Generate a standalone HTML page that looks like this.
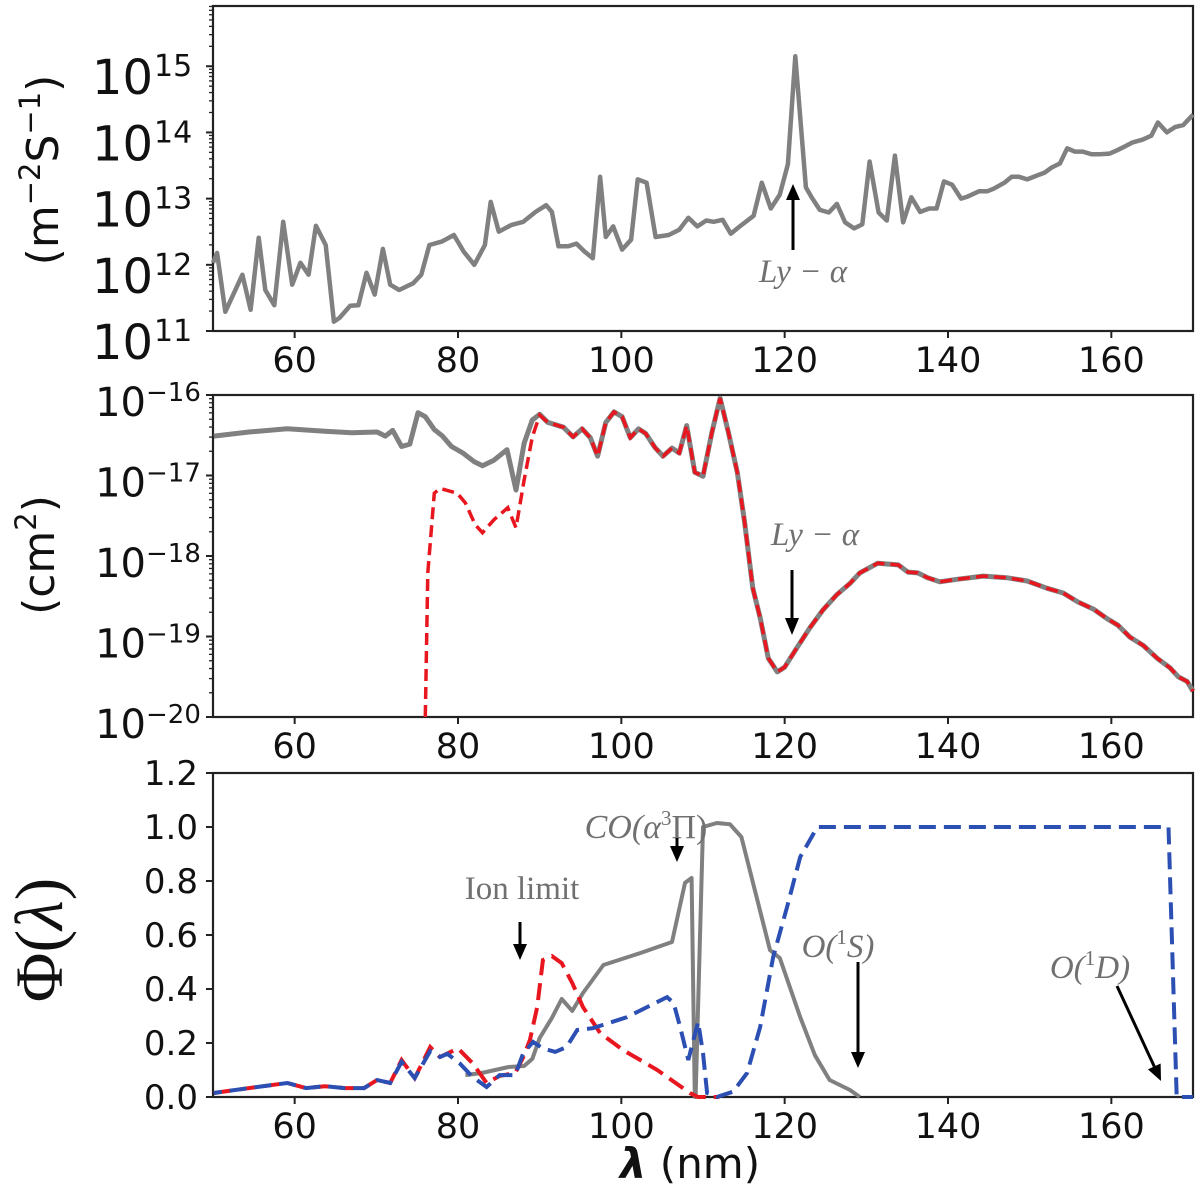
<!DOCTYPE html>
<html><head><meta charset="utf-8"><style>
html,body{margin:0;padding:0;background:#fff;}
svg{display:block;}
text{font-family:"DejaVu Sans","Liberation Sans",sans-serif;fill:#111;}
.serif{font-family:"Liberation Serif","DejaVu Serif",serif;}
</style></head><body>
<svg id="chart" width="1200" height="1188" viewBox="0 0 1200 1188" xmlns="http://www.w3.org/2000/svg"></svg>
<script>
// ---- Panel 1: solar flux (log10 of m^-2 s^-1) ----
const fluxLambda = [50,50.5,51.5,53.6,54.6,55.6,56.4,57.5,58.6,59.7,60.7,61.7,62.6,63.8,64.8,65.5,66.8,67.8,68.8,69.8,70.8,71.7,72.8,73.8,74.5,75.5,76.5,78,79.5,80.7,82,83.3,84,85,86.5,88,89.5,90.8,91.5,92.3,93.5,94.5,95.5,96.5,97.4,98.1,99.0,100.1,101.2,102.0,103.1,104.2,105.8,107.1,108.2,109.3,110.4,111.3,112.4,113.4,114.5,116.2,117.2,118.3,119.4,120.4,121.3,122.6,123.3,124.3,125.4,126.4,127.4,128.5,129.5,130.4,131.5,132.5,133.5,134.5,135.5,136.6,137.7,138.6,139.5,140.5,141.6,142.4,143.8,144.8,145.6,146.9,147.8,148.7,149.7,150.9,151.8,152.7,153.7,154.6,155.5,156.5,157.6,158.6,159.8,160.7,161.7,162.6,163.8,164.9,165.7,166.8,167.8,168.8,170];
const fluxLog = [12.03,12.18,11.29,11.85,11.32,12.41,11.62,11.39,12.65,11.70,12.03,11.85,12.59,12.30,11.14,11.2,11.38,11.39,11.88,11.55,12.24,11.70,11.62,11.68,11.72,11.85,12.3,12.35,12.45,12.2,12.0,12.3,12.95,12.5,12.6,12.65,12.8,12.9,12.8,12.28,12.28,12.32,12.2,12.1,13.33,12.42,12.58,12.23,12.38,13.29,13.24,12.42,12.45,12.53,12.71,12.58,12.67,12.65,12.68,12.47,12.58,12.74,13.24,12.85,13.06,13.52,15.15,13.17,13.02,12.83,12.79,12.92,12.64,12.55,12.61,13.56,12.79,12.67,13.65,12.64,13.02,12.80,12.85,12.85,13.26,13.21,13.0,13.03,13.11,13.11,13.15,13.24,13.33,13.33,13.29,13.35,13.39,13.47,13.53,13.76,13.71,13.71,13.67,13.67,13.68,13.73,13.79,13.85,13.89,13.95,14.15,14.0,14.08,14.11,14.27];
const fluxTicks = [11,12,13,14,15];

// ---- Panel 2: cross sections (log10 cm^2) ----
const xsLambda = [50.1,54.4,59.1,63.7,67.0,70.1,71.1,72.0,73.1,74.1,75.1,76.0,77.1,78.1,79.2,80.6,82.0,83.0,84.4,86.0,87.1,88.1,89.1,90.0,91.0,92.9,94.1,95.2,96.2,97.1,98.1,99.1,100.1,101.1,102.1,103.0,104.1,105.1,106.2,107.1,108.0,109.0,110.0,111.1,112.1,113.1,114.2,115.1,116.1,117.0,118.0,119.1,120.0,121.5,123.1,124.7,126.4,128.0,129.2,131.4,133.9,135.1,136.3,137.5,139.0,141.1,144.3,147.2,149.7,152.1,154.1,155.9,157.8,159.5,160.8,162.3,163.9,165.6,167.2,168.2,169.3,170];
const xsTotal = [-16.51,-16.46,-16.42,-16.45,-16.47,-16.46,-16.51,-16.44,-16.64,-16.61,-16.22,-16.27,-16.43,-16.51,-16.64,-16.72,-16.83,-16.88,-16.81,-16.68,-17.18,-16.6,-16.31,-16.24,-16.34,-16.40,-16.52,-16.42,-16.53,-16.76,-16.34,-16.21,-16.27,-16.53,-16.42,-16.48,-16.65,-16.76,-16.66,-16.72,-16.38,-16.96,-17.01,-16.46,-16.04,-16.46,-16.96,-17.58,-18.40,-18.77,-19.27,-19.44,-19.38,-19.14,-18.89,-18.67,-18.48,-18.34,-18.21,-18.09,-18.11,-18.20,-18.21,-18.27,-18.32,-18.29,-18.25,-18.27,-18.31,-18.40,-18.46,-18.57,-18.66,-18.78,-18.86,-19.01,-19.11,-19.27,-19.39,-19.50,-19.56,-19.68];
const xsDissLambda = [76.0,76.3,77.1,77.8,79.9,80.9,82.1,83.0,84.4,86.1,87.1,88.1,89.1,90.0];
const xsDiss = [-20,-18.21,-17.22,-17.16,-17.22,-17.34,-17.61,-17.71,-17.55,-17.40,-17.65,-17.06,-16.52,-16.25];
const xsTicks = [-20,-19,-18,-17,-16];

// ---- Panel 3: quantum yields ----
const redLambda = [50.1,54.4,59.1,61.4,63.7,66.1,68.5,70.1,71.7,73.1,74.7,76.6,77.8,80.0,81.8,83.5,85.1,87.0,88.0,88.8,89.7,90.4,91.5,92.7,94.0,95.3,97.4,100.2,104.4,108.4,109.4,112];
const redYield = [0.015,0.033,0.052,0.033,0.04,0.033,0.033,0.063,0.052,0.137,0.07,0.185,0.148,0.18,0.125,0.052,0.078,0.089,0.148,0.211,0.333,0.507,0.522,0.496,0.422,0.333,0.237,0.174,0.10,0.015,0,0];
const blueLambda = [50.1,54.4,59.1,61.4,63.7,66.1,68.5,70.1,71.7,73.1,74.7,76.6,77.8,78.7,80.2,81.8,83.5,85.1,87.0,88.0,89.2,90.4,91.9,93.3,94.6,96.5,100.7,105.6,106.4,107.2,108.2,109.4,110.0,110.5,111.7,113.7,115.4,117.0,118.6,120.3,121.9,124,167,168,170];
const blueYield = [0.015,0.033,0.052,0.033,0.04,0.033,0.033,0.063,0.052,0.13,0.07,0.17,0.148,0.16,0.125,0.074,0.037,0.081,0.081,0.163,0.204,0.18,0.167,0.185,0.248,0.255,0.296,0.37,0.348,0.26,0.137,0.278,0.163,0.015,0,0.02,0.089,0.26,0.519,0.704,0.889,1.0,1.0,0,0];
const grayLambda = [80.9,82.9,86.2,88.1,89.1,90.0,91.5,92.7,94.0,95.3,97.8,102.3,106.2,107.8,108.6,109.0,109.1,110.0,111.7,113.3,114.7,118.2,119.4,121.9,123.7,125.5,128,129.2];
const grayYield = [0.081,0.089,0.111,0.115,0.141,0.219,0.293,0.363,0.319,0.385,0.489,0.533,0.574,0.793,0.811,0.0,0.0,1.0,1.015,1.01,0.963,0.544,0.515,0.296,0.155,0.063,0.026,0];
const yieldTicks = [0,0.2,0.4,0.6,0.8,1.0,1.2];
const xTicks = [60,80,100,120,140,160];

const NS = "http://www.w3.org/2000/svg";
const svg = document.getElementById('chart');
function mk(tag, attrs, parent){ const e=document.createElementNS(NS,tag); for(const k in attrs) e.setAttribute(k,attrs[k]); (parent||svg).appendChild(e); return e; }

const XL=213, XR=1193, XMIN=50, XMAX=170;
const X = l => XL + (l-XMIN)*(XR-XL)/(XMAX-XMIN);
const panels = [
  {top:6, bot:331, lo:11, hi:15.91},
  {top:395, bot:717, lo:-20, hi:-16},
  {top:773, bot:1097, lo:0, hi:1.2}
];
const Y = (p,v) => p.bot - (v-p.lo)*(p.bot-p.top)/(p.hi-p.lo);

function pathD(p, xs, ys){ let d=''; for(let i=0;i<xs.length;i++){ const y=Math.max(p.top-2,Math.min(p.bot,Y(p,ys[i]))); d+=(i?'L':'M')+X(xs[i]).toFixed(1)+','+y.toFixed(1);} return d; }

function frame(p, name){
  const g = mk('g',{});
  
  
  const r = mk('rect',{x:XL,y:p.top,width:XR-XL,height:p.bot-p.top,fill:'none',stroke:'#222','stroke-width':2.2},g);
  
  
  xTicks.forEach(t=>{
    const l = mk('line',{x1:X(t),x2:X(t),y1:p.bot,y2:p.bot+7,stroke:'#222','stroke-width':2},g);
    
    
    const tx = mk('text',{x:X(t),y:p.bot+41,'text-anchor':'middle','font-size':35},g);
    tx.textContent = t;
    
    
  });
  return g;
}

// Panel 1
(function(){
  const p = panels[0];
  const g = frame(p,'flux-panel');
  for(let d=11; d<16; d++){ for(let m=2;m<=9;m++){ const v=d+Math.log10(m); if(v>p.hi) continue;
    mk('line',{x1:XL-4,x2:XL,y1:Y(p,v),y2:Y(p,v),stroke:'#222','stroke-width':1.3},g);} }
  fluxTicks.forEach(t=>{
    mk('line',{x1:XL-7,x2:XL,y1:Y(p,t),y2:Y(p,t),stroke:'#222','stroke-width':2},g);
    const tx = mk('text',{x:153,y:Y(p,t)+28,'text-anchor':'end','font-size':48},g);
    tx.textContent='10';
    
    
    const sp = mk('text',{x:154,y:Y(p,t)+10,'font-size':30},g);
    sp.textContent=String(t);
    
    
  });
  const line = mk('path',{d:pathD(p,fluxLambda,fluxLog),fill:'none',stroke:'#808080','stroke-width':4.5,'stroke-linejoin':'round'});
  
  
  const yl = mk('text',{x:0,y:0,'font-size':44,transform:'translate(58,170) rotate(-90)','text-anchor':'middle'});
  yl.innerHTML='(m<tspan dy="-18" font-size="29">−2</tspan><tspan dy="18">S</tspan><tspan dy="-18" font-size="29">−1</tspan><tspan dy="18">)</tspan>';
  
  
  const ar = mk('g',{});
  
  
  mk('line',{x1:793,x2:793,y1:250,y2:198,stroke:'#000','stroke-width':3},ar);
  mk('polygon',{points:'786,200 800,200 793,184',fill:'#000'},ar);
  const t = mk('text',{x:803,y:282,'text-anchor':'middle','font-size':33,'font-style':'italic',class:'serif'});
  t.style.fill='#707070';
  t.textContent='Ly − α';
  
  
})();

// Panel 2
(function(){
  const p = panels[1];
  const g = frame(p,'cross-section-panel');
  for(let d=-20; d<-16; d++){ for(let m=2;m<=9;m++){ const v=d+Math.log10(m);
    mk('line',{x1:XL-4,x2:XL,y1:Y(p,v),y2:Y(p,v),stroke:'#222','stroke-width':1.3},g);} }
  xsTicks.forEach(t=>{
    mk('line',{x1:XL-7,x2:XL,y1:Y(p,t),y2:Y(p,t),stroke:'#222','stroke-width':2},g);
    const tx = mk('text',{x:146,y:Y(p,t)+21,'text-anchor':'end','font-size':40},g);
    tx.textContent='10';
    
    
    const sp = mk('text',{x:146,y:Y(p,t)+6,'font-size':26},g);
    sp.textContent='−'+String(-t);
    
    
  });
  const gl = mk('path',{d:pathD(p,xsLambda,xsTotal),fill:'none',stroke:'#808080','stroke-width':5,'stroke-linejoin':'round'});
  
  
  const dl = xsDissLambda.concat(xsLambda.filter(l=>l>90.05));
  const dv = xsDiss.concat(xsTotal.filter((v,i)=>xsLambda[i]>90.05));
  const rl = mk('path',{d:pathD(p,dl,dv),fill:'none',stroke:'#e8161e','stroke-width':3.5,'stroke-dasharray':'12,6'});
  
  
  const yl = mk('text',{x:0,y:0,'font-size':44,transform:'translate(54,555) rotate(-90)','text-anchor':'middle'});
  yl.innerHTML='(cm<tspan dy="-18" font-size="29">2</tspan><tspan dy="18">)</tspan>';
  
  
  const ar = mk('g',{});
  
  
  mk('line',{x1:792,x2:792,y1:570,y2:620,stroke:'#000','stroke-width':3},ar);
  mk('polygon',{points:'785,618 799,618 792,635',fill:'#000'},ar);
  const t = mk('text',{x:815,y:545,'text-anchor':'middle','font-size':33,'font-style':'italic',class:'serif'});
  t.style.fill='#707070';
  t.textContent='Ly − α';
  
  
})();

// Panel 3
(function(){
  const p = panels[2];
  const g = frame(p,'yield-panel');
  yieldTicks.forEach(t=>{
    mk('line',{x1:XL-7,x2:XL,y1:Y(p,t),y2:Y(p,t),stroke:'#222','stroke-width':2},g);
    const tx = mk('text',{x:198,y:Y(p,t)+12,'text-anchor':'end','font-size':34},g);
    tx.textContent=t.toFixed(1);
    
    
  });
  const gl = mk('path',{d:pathD(p,grayLambda,grayYield),fill:'none',stroke:'#808080','stroke-width':4,'stroke-linejoin':'round'});
  
  
  const rl = mk('path',{d:pathD(p,redLambda,redYield),fill:'none',stroke:'#e8161e','stroke-width':4,'stroke-dasharray':'17,8'});
  
  
  const bl = mk('path',{d:pathD(p,blueLambda,blueYield),fill:'none',stroke:'#2b4fb3','stroke-width':4,'stroke-dasharray':'17,8','stroke-dashoffset':'9'});
  
  
  const yl = mk('text',{x:0,y:0,'font-size':68,class:'serif',transform:'translate(62,940) rotate(-90)','text-anchor':'middle'});
  yl.innerHTML='Φ(<tspan font-style="italic">λ</tspan>)';
  
  
  const xl = mk('text',{x:690,y:1178,'text-anchor':'middle','font-size':42});
  xl.innerHTML='<tspan font-style="italic" font-weight="bold">λ</tspan> (nm)';
  
  
  function label(x,y,html,name,italic,size){ const t=mk('text',{x:x,y:y,'text-anchor':'middle','font-size':size||32,class:'serif'}); if(italic) t.setAttribute('font-style','italic'); t.style.fill='#707070'; t.innerHTML=html;   }
  label(646,838,'CO(α<tspan dy="-13" font-size="21" font-style="normal">3</tspan><tspan dy="13" font-style="normal">Π)</tspan>','co-a3pi-label',true,34);
  label(522,899,'Ion limit','ion-limit-label',false,33);
  label(838,957,'O(<tspan dy="-13" font-size="21" font-style="normal">1</tspan><tspan dy="13">S)</tspan>','o1s-label',true,33);
  label(1090,978,'O(<tspan dy="-13" font-size="21" font-style="normal">1</tspan><tspan dy="13">D)</tspan>','o1d-label',true,33);
  function arrow(x1,y1,x2,y2,name){ const a=mk('g',{});  
    const ang=Math.atan2(y2-y1,x2-x1), L=16, W=7; const bx=x2-L*Math.cos(ang), by=y2-L*Math.sin(ang);
    mk('line',{x1:x1,y1:y1,x2:bx,y2:by,stroke:'#000','stroke-width':3},a);
    mk('polygon',{points:`${x2},${y2} ${bx+W*Math.sin(ang)},${by-W*Math.cos(ang)} ${bx-W*Math.sin(ang)},${by+W*Math.cos(ang)}`,fill:'#000'},a); }
  arrow(677,838,677,862,'co-a3pi-arrow');
  arrow(520,922,520,960,'ion-limit-arrow');
  arrow(858,962,858,1068,'o1s-arrow');
  arrow(1117,986,1161,1081,'o1d-arrow');
})();
</script>
</body></html>
